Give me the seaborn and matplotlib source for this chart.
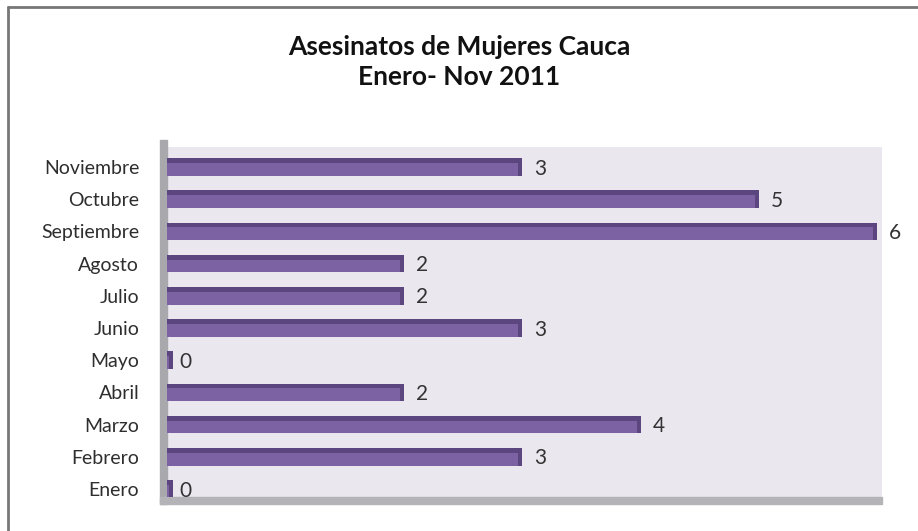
import matplotlib
matplotlib.use("Agg")
import matplotlib.pyplot as plt
import matplotlib.patches as mpatches
import seaborn as sns
import pandas as pd

# datos del grafico
meses = ["Enero", "Febrero", "Marzo", "Abril", "Mayo", "Junio",
         "Julio", "Agosto", "Septiembre", "Octubre", "Noviembre"]
casos = [0, 3, 4, 2, 0, 3, 2, 2, 6, 5, 3]
titulo = "Asesinatos de Mujeres Cauca\nEnero- Nov 2011"

FACE = "#7d62a3"
TOP = "#5b4680"
WALL = "#ebe7ef"

sns.set_theme(style="white")
plt.rcParams["font.family"] = ["Lato", "DejaVu Sans"]

df = pd.DataFrame({"mes": meses, "casos": casos})
# Noviembre arriba, Enero abajo
df = df.iloc[::-1].reset_index(drop=True)

fig = plt.figure(figsize=(9.18, 5.31), dpi=100)
ax = fig.add_axes([0.182, 0.064, 0.779, 0.659])
ax.set_facecolor(WALL)

sns.barplot(data=df, x="casos", y="mes", orient="h", color=FACE,
            width=0.55, saturation=1, linewidth=0, ax=ax, zorder=3)

# efecto 3D: banda superior y tapa final mas oscuras
for i, v in enumerate(df["casos"]):
    w = max(v, 0.05)
    ax.barh(i - 0.2, w, height=0.15, color=TOP, linewidth=0, zorder=4)
    ax.barh(i, 0.035, left=w - 0.035, height=0.55, color=TOP, linewidth=0, zorder=4)
    ax.text(v + 0.1, i + 0.05, str(v), va="center", ha="left",
            fontsize=15, color="#333333", zorder=6, clip_on=False)

# barras en cero: pequeno bloque visible
for i, v in enumerate(df["casos"]):
    if v == 0:
        ax.barh(i, 0.05, height=0.55, color=FACE, linewidth=0, zorder=3)

ax.set_xlim(0, 6.04)
ax.set_ylim(len(meses) - 1 + 0.25, -0.62)
ax.set_xlabel("")
ax.set_ylabel("")
ax.set_xticks([])
ax.tick_params(axis="y", length=0, pad=20, labelsize=14, labelcolor="#2e2e2e")
for s in ax.spines.values():
    s.set_visible(False)

# pared izquierda y piso grises
ax.add_patch(mpatches.Rectangle((-0.01, -0.02), 0.01, 1.04, transform=ax.transAxes,
                                color="#a9a9ad", clip_on=False, zorder=1))
ax.add_patch(mpatches.Rectangle((-0.01, -0.02), 1.01, 0.02, transform=ax.transAxes,
                                color="#b4b3b8", clip_on=False, zorder=1))

fig.text(0.5, 0.884, titulo, ha="center", va="center", fontsize=19,
         fontweight="bold", color="#111111", linespacing=1.3)

# marco del grafico
fig.add_artist(plt.Line2D([0.009, 0.009], [0, 0.987], color="#777777", lw=2))
fig.add_artist(plt.Line2D([0.009, 1], [0.987, 0.987], color="#777777", lw=2))

fig.savefig("out.png", dpi=100)
